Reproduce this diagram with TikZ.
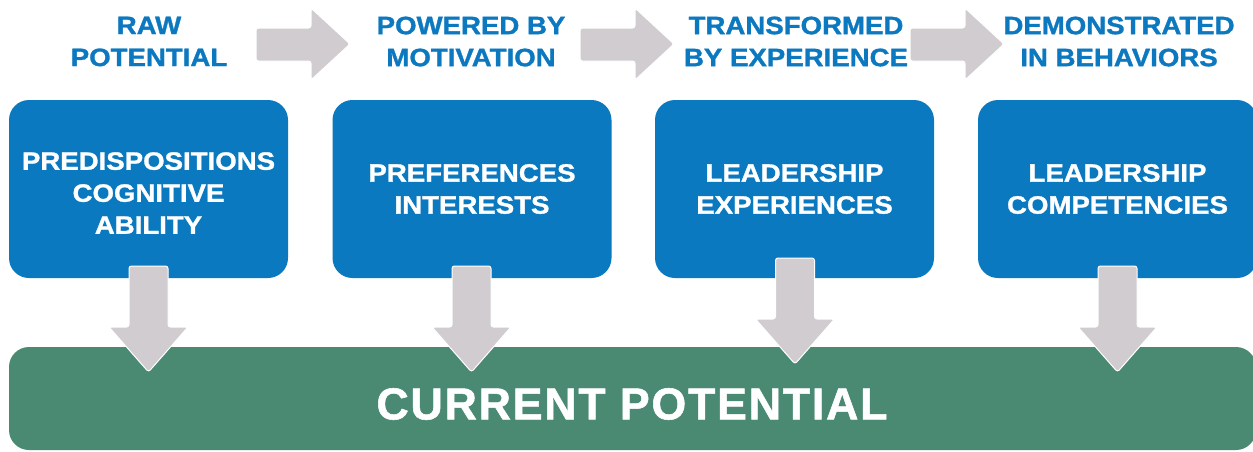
\documentclass[tikz,border=0pt]{standalone}
\usepackage{fontspec}
\newfontfamily\boxfont{Liberation Sans}[FakeStretch=1.1,FakeBold=1.2]
\newfontfamily\barfont{Liberation Sans}[LetterSpace=4,FakeBold=1.2]
\definecolor{boxblue}{HTML}{0B79C0}
\definecolor{headblue}{HTML}{0B78C0}
\definecolor{arrowgray}{HTML}{D0CCD0}
\definecolor{bargreen}{HTML}{4A8A73}
\begin{document}
\begin{tikzpicture}[x=1pt,y=-1pt,
  header/.style={text=headblue, font=\boxfont\bfseries\fontsize{25.1}{32}\selectfont, align=center, inner sep=0pt},
  stagebox/.style={fill=boxblue, rounded corners=20pt, minimum width=279pt, minimum height=178pt,
    text=white, font=\boxfont\bfseries\fontsize{25.1}{32}\selectfont, align=center, inner sep=0pt},
  bar/.style={fill=bargreen, rounded corners=20pt, minimum width=1247pt, minimum height=103pt, inner sep=0pt},
  bartext/.style={text=white, font=\barfont\bfseries\fontsize{44.7}{50}\selectfont, inner sep=0pt},
  blockarrow/.style={fill=arrowgray, draw=white, line width=1pt, rounded corners=2.5pt}]
\useasboundingbox (0,0) rectangle (1253,451);
\fill[white] (0,0) rectangle (1253,451);
% headers
\node[header] (h1) at (149,41.5) {RAW\\POTENTIAL};
\node[header] (h2) at (471,41.5) {POWERED BY\\MOTIVATION};
\node[header] (h3) at (796,41.5) {TRANSFORMED\\BY EXPERIENCE};
\node[header] (h4) at (1119,41.5) {DEMONSTRATED\\IN BEHAVIORS};
% horizontal block arrows
\foreach \sx in {256,580,910}
  \draw[blockarrow] (\sx,28) -- ({\sx+55},28) -- ({\sx+55},8) -- ({\sx+94},44)
    -- ({\sx+55},80) -- ({\sx+55},61) -- (\sx,61) -- cycle;
% stage boxes
\node[stagebox] (b1) at (148.5,189) {\rule{0pt}{25.5pt}PREDISPOSITIONS\\COGNITIVE\\ABILITY};
\node[stagebox] (b2) at (472,189) {PREFERENCES\\INTERESTS};
\node[stagebox] (b3) at (794.5,189) {LEADERSHIP\\EXPERIENCES};
\node[stagebox] (b4) at (1117.5,189) {LEADERSHIP\\COMPETENCIES};
% current potential bar
\node[bar] (cp) at (632.5,398.5) {};
\node[bartext] (cpt) at (632,404) {CURRENT POTENTIAL};
% down block arrows
\foreach \cx/\ty in {148.5/266, 471.5/266, 795/258, 1117.5/266}
  \draw[blockarrow] ({\cx-19.5},\ty) -- ({\cx+19.5},\ty) -- ({\cx+19.5},{\ty+61})
    -- ({\cx+39.5},{\ty+61}) -- (\cx,{\ty+106}) -- ({\cx-39.5},{\ty+61})
    -- ({\cx-19.5},{\ty+61}) -- cycle;
\end{tikzpicture}
\end{document}
